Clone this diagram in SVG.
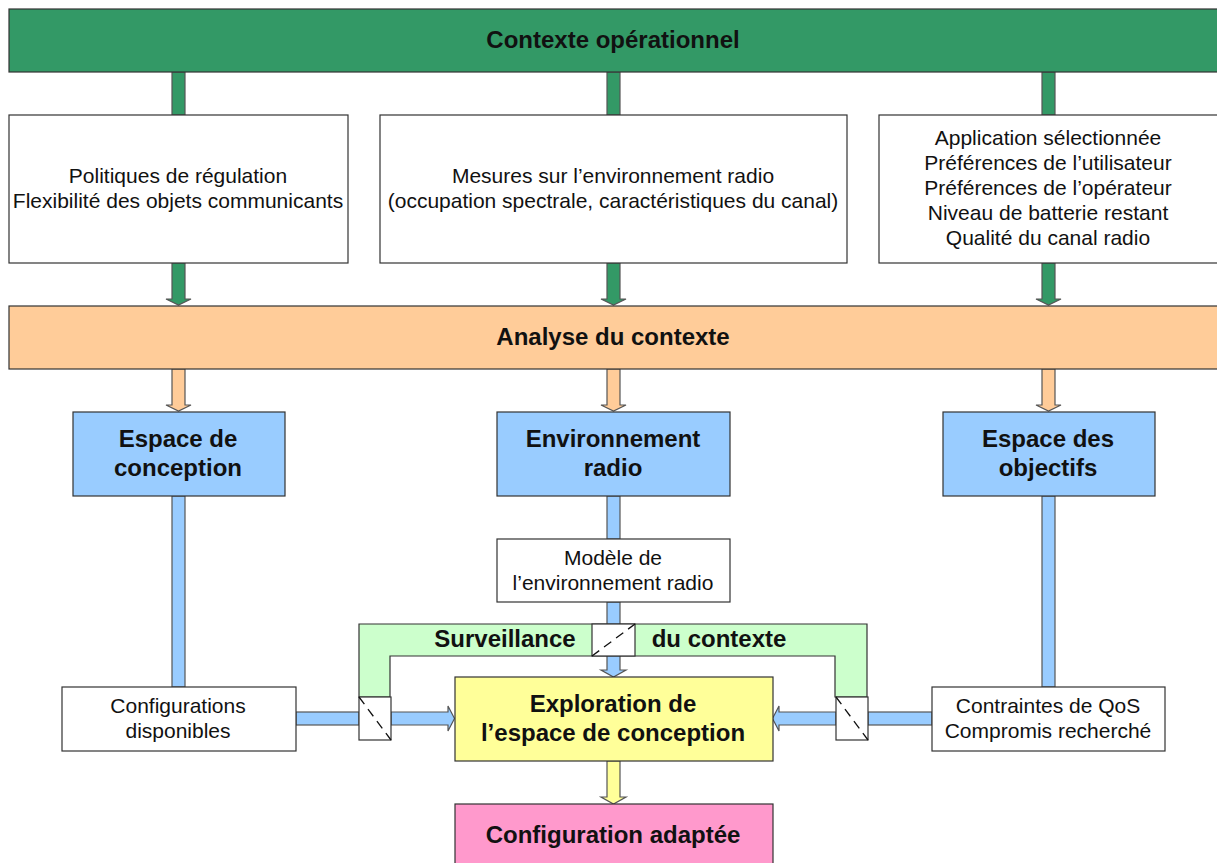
<svg xmlns="http://www.w3.org/2000/svg" width="1217" height="863" viewBox="0 0 1217 863">
<style>
text{font-family:"Liberation Sans",Arial,sans-serif;fill:#111;text-anchor:middle}
.r{font-size:21px}
.b{font-size:24px;font-weight:bold}
.box{stroke:#333;stroke-width:1.2}
.w{fill:#fff}
.g{fill:#339966}
.o{fill:#ffcc99}
.bl{fill:#99ccff}
.y{fill:#ffff99}
.p{fill:#ff99cc}
.lg{fill:#ccffcc}
.ar{stroke:#555;stroke-width:1.2}
.dash{stroke:#111;stroke-width:1.3;stroke-dasharray:9 6;fill:none}
</style>
<g id="connectors">
<rect class="g ar" x="172" y="72" width="13" height="43"/>
<rect class="g ar" x="607" y="72" width="13" height="43"/>
<rect class="g ar" x="1042" y="72" width="13" height="43"/>
<path class="g ar" d="M172 263V299H166L178.500 305L191 299H185V263Z"/>
<path class="g ar" d="M607 263V299H601L613.500 305L626 299H620V263Z"/>
<path class="g ar" d="M1042 263V299H1036L1048.500 305L1061 299H1055V263Z"/>
<path class="o ar" d="M172 369V405H166L178.500 411L191 405H185V369Z"/>
<path class="o ar" d="M607 369V405H601L613.500 411L626 405H620V369Z"/>
<path class="o ar" d="M1042 369V405H1036L1048.500 411L1061 405H1055V369Z"/>
<rect class="bl ar" x="172" y="496" width="13" height="191"/>
<rect class="bl ar" x="607" y="496" width="13" height="43"/>
<rect class="bl ar" x="1042" y="496" width="13" height="191"/>
<rect class="bl ar" x="607" y="602" width="13" height="23"/>
<path class="bl ar" d="M607 655V670H601L613.500 677L626 670H620V655Z"/>
<rect class="bl ar" x="296" y="712" width="63" height="13"/>
<path class="bl ar" d="M391 712H448V706L454.500 718.500L448 731V725H391Z"/>
<path class="bl ar" d="M836 712H779V706L772.500 718.500L779 731V725H836Z"/>
<rect class="bl ar" x="868" y="712" width="64" height="13"/>
<path class="y ar" d="M607 761V797H601L613.500 804L626 797H620V761Z"/>
</g>
<g id="surveillance">
<path class="lg box" d="M359 697V624H867V697H835V656H390V697Z"/>
<text class="b" x="505" y="647">Surveillance</text>
<text class="b" x="719" y="647">du contexte</text>
</g>
<g id="switch-top">
<rect class="w box" x="592" y="624" width="43" height="32"/>
<line class="dash" x1="592" y1="656" x2="635" y2="624"/>
</g>
<g id="switch-left">
<rect class="w box" x="359" y="697" width="32" height="43"/>
<line class="dash" x1="359" y1="697" x2="391" y2="740"/>
</g>
<g id="switch-right">
<rect class="w box" x="836" y="697" width="32" height="43"/>
<line class="dash" x1="836" y1="697" x2="868" y2="740"/>
</g>
<g id="contexte-operationnel">
<rect class="g box" x="9" y="9" width="1209" height="63"/>
<text class="b" x="613" y="48">Contexte opérationnel</text>
</g>
<g id="politiques">
<rect class="w box" x="9" y="115" width="339" height="148"/>
<text class="r" x="178" y="182.500">Politiques de régulation</text>
<text class="r" x="178" y="207.500">Flexibilité des objets communicants</text>
</g>
<g id="mesures">
<rect class="w box" x="380" y="115" width="467" height="148"/>
<text class="r" x="613" y="182.500">Mesures sur l’environnement radio</text>
<text class="r" x="613" y="207.500">(occupation spectrale, caractéristiques du canal)</text>
</g>
<g id="application">
<rect class="w box" x="879" y="115" width="339" height="148"/>
<text class="r" x="1048" y="144.500">Application sélectionnée</text>
<text class="r" x="1048" y="169.500">Préférences de l’utilisateur</text>
<text class="r" x="1048" y="194.500">Préférences de l’opérateur</text>
<text class="r" x="1048" y="219.500">Niveau de batterie restant</text>
<text class="r" x="1048" y="244.500">Qualité du canal radio</text>
</g>
<g id="analyse">
<rect class="o box" x="9" y="306" width="1209" height="63"/>
<text class="b" x="613" y="345">Analyse du contexte</text>
</g>
<g id="espace-conception">
<rect class="bl box" x="73" y="412" width="212" height="84"/>
<text class="b" x="178" y="447">Espace de</text>
<text class="b" x="178" y="476">conception</text>
</g>
<g id="environnement">
<rect class="bl box" x="497" y="412" width="233" height="84"/>
<text class="b" x="613" y="447">Environnement</text>
<text class="b" x="613" y="476">radio</text>
</g>
<g id="espace-objectifs">
<rect class="bl box" x="943" y="412" width="212" height="84"/>
<text class="b" x="1048" y="447">Espace des</text>
<text class="b" x="1048" y="476">objectifs</text>
</g>
<g id="modele">
<rect class="w box" x="497" y="539" width="233" height="63"/>
<text class="r" x="613" y="564.500">Modèle de</text>
<text class="r" x="613" y="589.500">l’environnement radio</text>
</g>
<g id="configurations">
<rect class="w box" x="62" y="687" width="234" height="64"/>
<text class="r" x="178" y="712.500">Configurations</text>
<text class="r" x="178" y="737.500">disponibles</text>
</g>
<g id="contraintes">
<rect class="w box" x="932" y="687" width="233" height="64"/>
<text class="r" x="1048" y="712.500">Contraintes de QoS</text>
<text class="r" x="1048" y="737.500">Compromis recherché</text>
</g>
<g id="exploration">
<rect class="y box" x="455" y="677" width="318" height="84"/>
<text class="b" x="613" y="712">Exploration de</text>
<text class="b" x="613" y="741">l’espace de conception</text>
</g>
<g id="configuration-adaptee">
<rect class="p box" x="455" y="804" width="318" height="60"/>
<text class="b" x="613" y="843">Configuration adaptée</text>
</g>
</svg>
